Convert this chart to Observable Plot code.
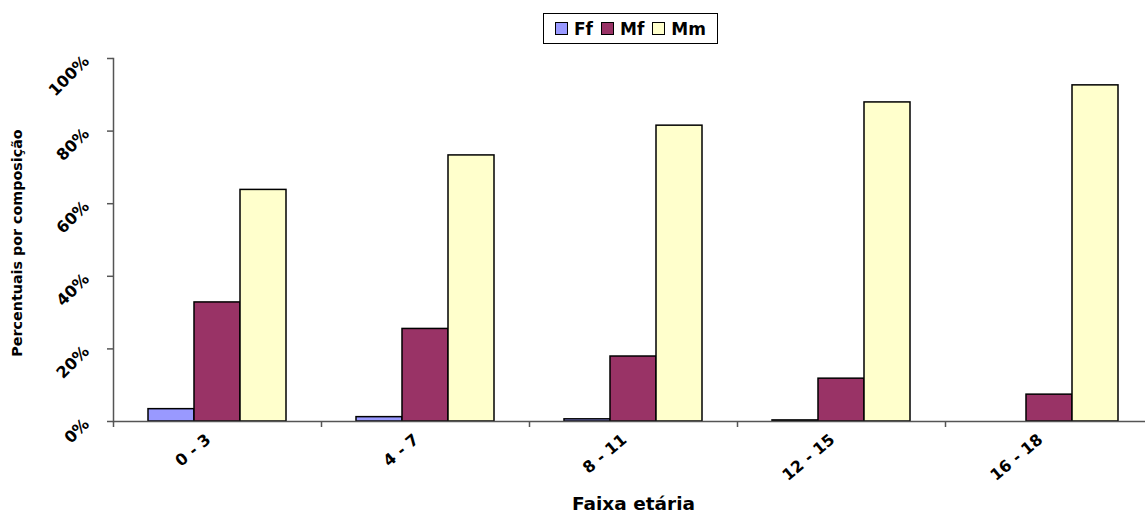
<!DOCTYPE html>
<html>
<head>
<meta charset="utf-8">
<script src="https://cdn.jsdelivr.net/npm/d3@7"></script>
<script src="https://cdn.jsdelivr.net/npm/@observablehq/plot@0.6"></script>
<style>
  html, body { margin: 0; padding: 0; background: #fff; }
  #chart { position: relative; width: 1145px; height: 513px; overflow: hidden; font-family: "DejaVu Sans", sans-serif; }
  #legend { position: relative; height: 45px; }
  .lg { position: absolute; left: 543px; top: 13px; height: 29px; width: 173px; border: 1px solid #000;
        display: flex; align-items: center; justify-content: center; gap: 8px; box-sizing: content-box; }
  .it { display: flex; align-items: center; gap: 6px; font-weight: bold; font-size: 17px; color: #000; }
  .sw { width: 11px; height: 11px; border: 1px solid #000; }
</style>
</head>
<body>
<div id="chart"><div id="legend"></div></div>
<script>
const categories = ["0 - 3", "4 - 7", "8 - 11", "12 - 15", "16 - 18"];
const seriesNames = ["Ff", "Mf", "Mm"];
const seriesColors = ["#9999FF", "#993366", "#FFFFCC"];
const valuesFf = [3.4, 1.2, 0.6, 0.3, 0];
const valuesMf = [32.8, 25.5, 17.9, 11.8, 7.4];
const valuesMm = [63.8, 73.3, 81.5, 87.9, 92.6];
const yTicks = [0, 20, 40, 60, 80, 100];
const xTitle = "Faixa etária";
const yTitle = "Percentuais por composição";

const seriesValues = [valuesFf, valuesMf, valuesMm];
const table = [];
categories.forEach((c, i) => seriesNames.forEach((s, j) => table.push({cat: c, series: s, value: seriesValues[j][i]})));

// legend
const lg = document.createElement("div");
lg.className = "lg";
seriesNames.forEach((s, j) => {
  const it = document.createElement("div");
  it.className = "it";
  const sw = document.createElement("div");
  sw.className = "sw";
  sw.style.background = seriesColors[j];
  const t = document.createElement("span");
  t.textContent = s;
  it.appendChild(sw); it.appendChild(t);
  lg.appendChild(it);
});
document.getElementById("legend").appendChild(lg);

const W = 1145, H = 468, mL = 113, mR = -8;
const step = (W - mL - mR) / categories.length;
const axisColor = "#555";

const chart = Plot.plot({
  width: W,
  height: H,
  marginTop: 13,
  marginBottom: 92,
  marginLeft: mL,
  marginRight: mR,
  style: {fontFamily: "DejaVu Sans, sans-serif", color: "#000", background: "transparent"},
  fx: {domain: categories, paddingInner: 0, paddingOuter: 0, label: null},
  x: {domain: seriesNames, paddingInner: 0, paddingOuter: 0.75, axis: null},
  y: {domain: [0, 100], axis: null},
  color: {domain: seriesNames, range: seriesColors},
  marks: [
    Plot.barY(table, {fx: "cat", x: "series", y: "value", fill: "series", stroke: "#000", strokeWidth: 1.5}),
    Plot.ruleY([0], {stroke: axisColor, strokeWidth: 1.5}),
    Plot.frame({anchor: "left", facet: "super", stroke: axisColor, strokeWidth: 1.5}),
    Plot.axisY({ticks: yTicks, tickFormat: d => d + "%", tickSize: 6, tickPadding: 21, tickRotate: -45,
      fontSize: 16, fontWeight: "bold", stroke: axisColor, strokeWidth: 1.5, label: null}),
    Plot.axisFx({anchor: "bottom", tickSize: 6, tickFormat: () => "", dx: -step / 2, stroke: axisColor, strokeWidth: 1.5, label: null}),
    Plot.axisFx({anchor: "bottom", tickSize: 0, tickPadding: 16, dx: -9, tickRotate: -40, fontSize: 16, fontWeight: "bold", label: null}),
    Plot.text([xTitle], {frameAnchor: "bottom", dy: 88, facet: "super", fontSize: 18.5, fontWeight: "bold", fill: "#000"}),
    Plot.text([yTitle], {frameAnchor: "left", textAnchor: "middle", dx: -96, dy: 3, rotate: -90, facet: "super", fontSize: 14.3, fontWeight: "bold", fill: "#000"})
  ]
});
document.getElementById("chart").appendChild(chart);
</script>
</body>
</html>
